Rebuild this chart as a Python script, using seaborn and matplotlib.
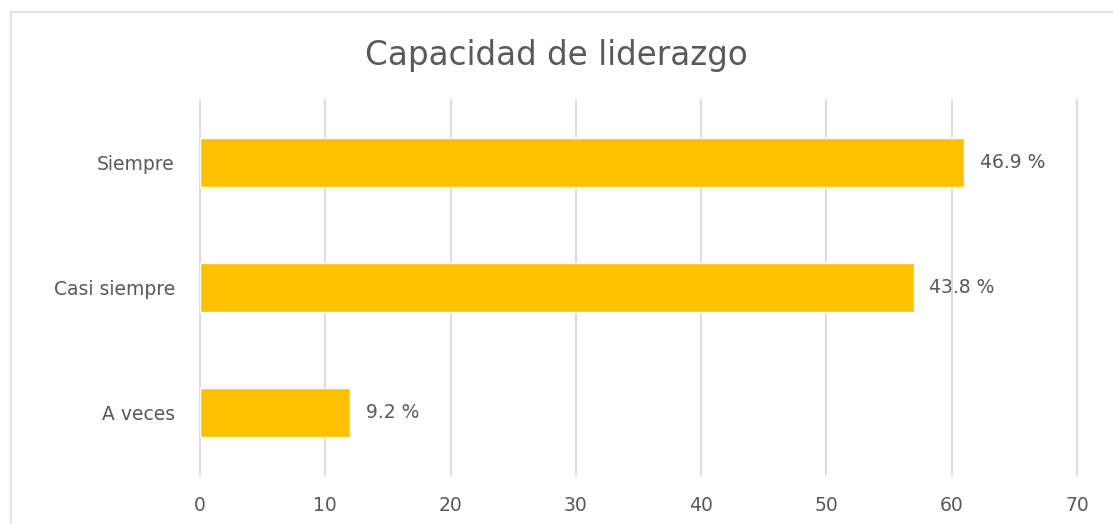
import matplotlib
matplotlib.use("Agg")
import matplotlib.pyplot as plt
import seaborn as sns
import pandas as pd
from matplotlib.patches import Rectangle

# data
categories = ["Siempre", "Casi siempre", "A veces"]
counts = [61, 57, 12]
pct_labels = ["46.9 %", "43.8 %", "9.2 %"]
x_ticks = [0, 10, 20, 30, 40, 50, 60, 70]

sns.set_theme(style="white")
plt.rcParams["font.family"] = ["DejaVu Sans"]

text_col = "#595959"
grid_col = "#d9d9d9"

df = pd.DataFrame({"categoria": categories, "valor": counts})

fig = plt.figure(figsize=(11.13, 5.24), dpi=100)
fig.patch.set_facecolor("white")

# light frame around the chart area
fig.patches.append(Rectangle((11 / 1113, -0.1), 1.2, 1 - 12 / 524 + 0.1,
                             transform=fig.transFigure, fill=False,
                             edgecolor="#dcdcdc", linewidth=1.2))

ax = fig.add_axes([200 / 1113, 1 - 475 / 524, 877 / 1113, 375 / 524])
sns.barplot(data=df, x="valor", y="categoria", orient="h", color="#FFC000",
            width=0.39, saturation=1, ax=ax, zorder=3)

ax.set_xlim(0, 70)
ax.set_ylim(2.5, -0.5)
ax.set_xticks(x_ticks)
ax.xaxis.grid(True, color=grid_col, linewidth=1.3, zorder=0)
for gl in ax.get_xgridlines():
    gl.set_clip_on(False)
ax.set_axisbelow(True)
for s in ax.spines.values():
    s.set_visible(False)
ax.set_xlabel("")
ax.set_ylabel("")
ax.tick_params(axis="x", length=0, pad=15, labelsize=13.5, labelcolor=text_col)
ax.tick_params(axis="y", length=0, pad=18, labelsize=13.5, labelcolor=text_col)

ax.bar_label(ax.containers[0], labels=pct_labels, padding=11,
             fontsize=13.5, color=text_col)

fig.text(0.5, 1 - 56 / 524, "Capacidad de liderazgo", ha="center", va="center",
         fontsize=23.5, color=text_col)

fig.savefig("out.png", dpi=100, facecolor="white")
plt.close(fig)
